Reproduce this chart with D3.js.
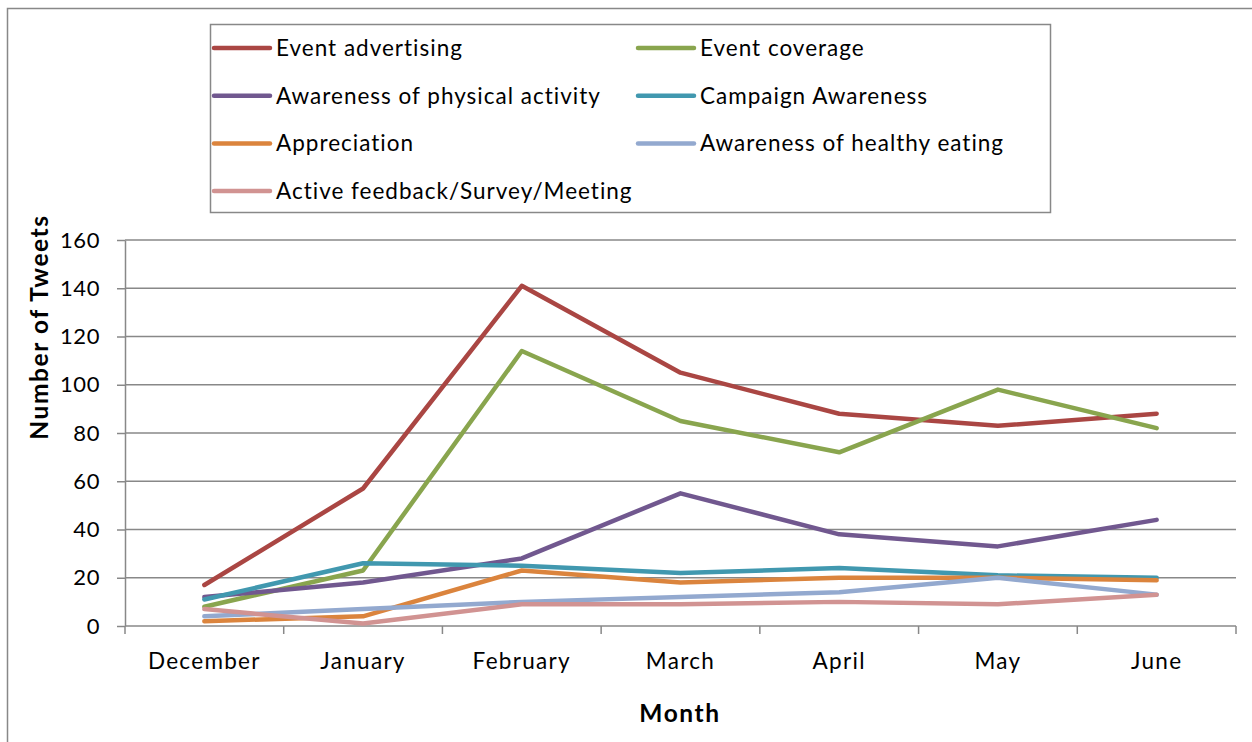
<!DOCTYPE html>
<html lang="en">
<head>
    <meta charset="UTF-8">
    <title>Number of Tweets by Month</title>
    <script src="https://d3js.org/d3.v7.min.js"></script>
    <style>
        body { margin: 0; background: #fff; }
        svg text { font-family: Lato, "Open Sans", sans-serif; fill: #000; }
        .grid line { stroke: #888; stroke-width: 1.5px; }
        .axis path, .axis line { stroke: #888; stroke-width: 1.5px; }
        .series { fill: none; stroke-width: 4.5px; stroke-linejoin: round; stroke-linecap: round; }
    </style>
</head>
<body>
<svg id="chart"></svg>
<script>
    // Chart data
    const months = ["December", "January", "February", "March", "April", "May", "June"];
    const seriesNames = [
        "Event advertising",
        "Event coverage",
        "Awareness of physical activity",
        "Campaign Awareness",
        "Appreciation",
        "Awareness of healthy eating",
        "Active feedback/Survey/Meeting"
    ];
    const eventAdvertising = [17, 57, 141, 105, 88, 83, 88];
    const eventCoverage = [8, 23, 114, 85, 72, 98, 82];
    const physicalActivity = [12, 18, 28, 55, 38, 33, 44];
    const campaignAwareness = [11, 26, 25, 22, 24, 21, 20];
    const appreciation = [2, 4, 23, 18, 20, 20, 19];
    const healthyEating = [4, 7, 10, 12, 14, 20, 13];
    const activeFeedback = [7, 1, 9, 9, 10, 9, 13];
    const yTicks = [0, 20, 40, 60, 80, 100, 120, 140, 160];
    const colors = ["#AA4643", "#89A54E", "#71588F", "#4198AF", "#DB843D", "#93A9CF", "#D19392"];

    const allValues = [eventAdvertising, eventCoverage, physicalActivity, campaignAwareness,
        appreciation, healthyEating, activeFeedback];

    const width = 1252, height = 742;
    const plot = {left: 125, right: 1236, top: 240, bottom: 626};

    const svg = d3.select("#chart").attr("width", width).attr("height", height);

    // outer chart border
    svg.append("rect")
        .attr("x", 7.5).attr("y", 8.5)
        .attr("width", 1260).attr("height", 760)
        .attr("fill", "none").attr("stroke", "#888").attr("stroke-width", 1.5);

    const x = d3.scaleBand().domain(months).range([plot.left, plot.right]);
    const y = d3.scaleLinear().domain([0, 160]).range([plot.bottom, plot.top]);

    // horizontal gridlines
    svg.append("g").attr("class", "grid")
        .selectAll("line").data(yTicks.slice(1)).enter().append("line")
        .attr("x1", plot.left).attr("x2", plot.right)
        .attr("y1", d => y(d)).attr("y2", d => y(d));

    // y axis
    const yAxis = svg.append("g").attr("class", "axis")
        .attr("transform", `translate(${plot.left},0)`)
        .call(d3.axisLeft(y).tickValues(yTicks).tickSize(8).tickSizeOuter(0).tickPadding(17));
    yAxis.selectAll("text").style("font-size", "22px").style("letter-spacing", "0.6px").attr("font-family", null);

    // x axis with ticks between categories
    const xAxisG = svg.append("g").attr("class", "axis")
        .attr("transform", `translate(0,${plot.bottom})`);
    xAxisG.append("line")
        .attr("x1", plot.left).attr("x2", plot.right);
    xAxisG.selectAll(".tk").data(d3.range(months.length + 1)).enter().append("line")
        .attr("class", "tk")
        .attr("x1", i => plot.left + i * x.bandwidth())
        .attr("x2", i => plot.left + i * x.bandwidth())
        .attr("y1", 0).attr("y2", 8);
    xAxisG.selectAll("text").data(months).enter().append("text")
        .attr("x", d => x(d) + x.bandwidth() / 2)
        .attr("y", 43)
        .attr("text-anchor", "middle")
        .style("font-size", "22.5px").style("letter-spacing", "1.3px")
        .text(d => d);

    // axis titles
    svg.append("text")
        .attr("transform", "translate(48,327) rotate(-90)")
        .attr("text-anchor", "middle")
        .style("font-size", "24.5px").style("font-weight", "bold").style("letter-spacing", "1.6px")
        .text("Number of Tweets");
    svg.append("text")
        .attr("x", 680).attr("y", 722)
        .attr("text-anchor", "middle")
        .style("font-size", "24.5px").style("font-weight", "bold").style("letter-spacing", "1.6px")
        .text("Month");

    // lines
    const line = d3.line()
        .x((d, i) => x(months[i]) + x.bandwidth() / 2)
        .y(d => y(d));

    svg.append("g").selectAll("path").data(allValues).enter().append("path")
        .attr("class", "series")
        .attr("stroke", (d, i) => colors[i])
        .attr("d", line);

    // legend
    const legend = svg.append("g");
    legend.append("rect")
        .attr("x", 210.5).attr("y", 24.5)
        .attr("width", 840).attr("height", 188)
        .attr("fill", "#fff").attr("stroke", "#888").attr("stroke-width", 1.5);

    const item = legend.selectAll(".item").data(seriesNames).enter().append("g")
        .attr("class", "item")
        .attr("transform", (d, i) => `translate(${i % 2 === 0 ? 214 : 638},${48 + Math.floor(i / 2) * 47.7})`);
    item.append("line")
        .attr("x1", 0).attr("x2", 56)
        .attr("stroke", (d, i) => colors[i])
        .attr("stroke-width", 4.5).attr("stroke-linecap", "round");
    item.append("text")
        .attr("x", 62).attr("y", 8)
        .style("font-size", "22.5px").style("letter-spacing", "1px")
        .text(d => d);
</script>
</body>
</html>
